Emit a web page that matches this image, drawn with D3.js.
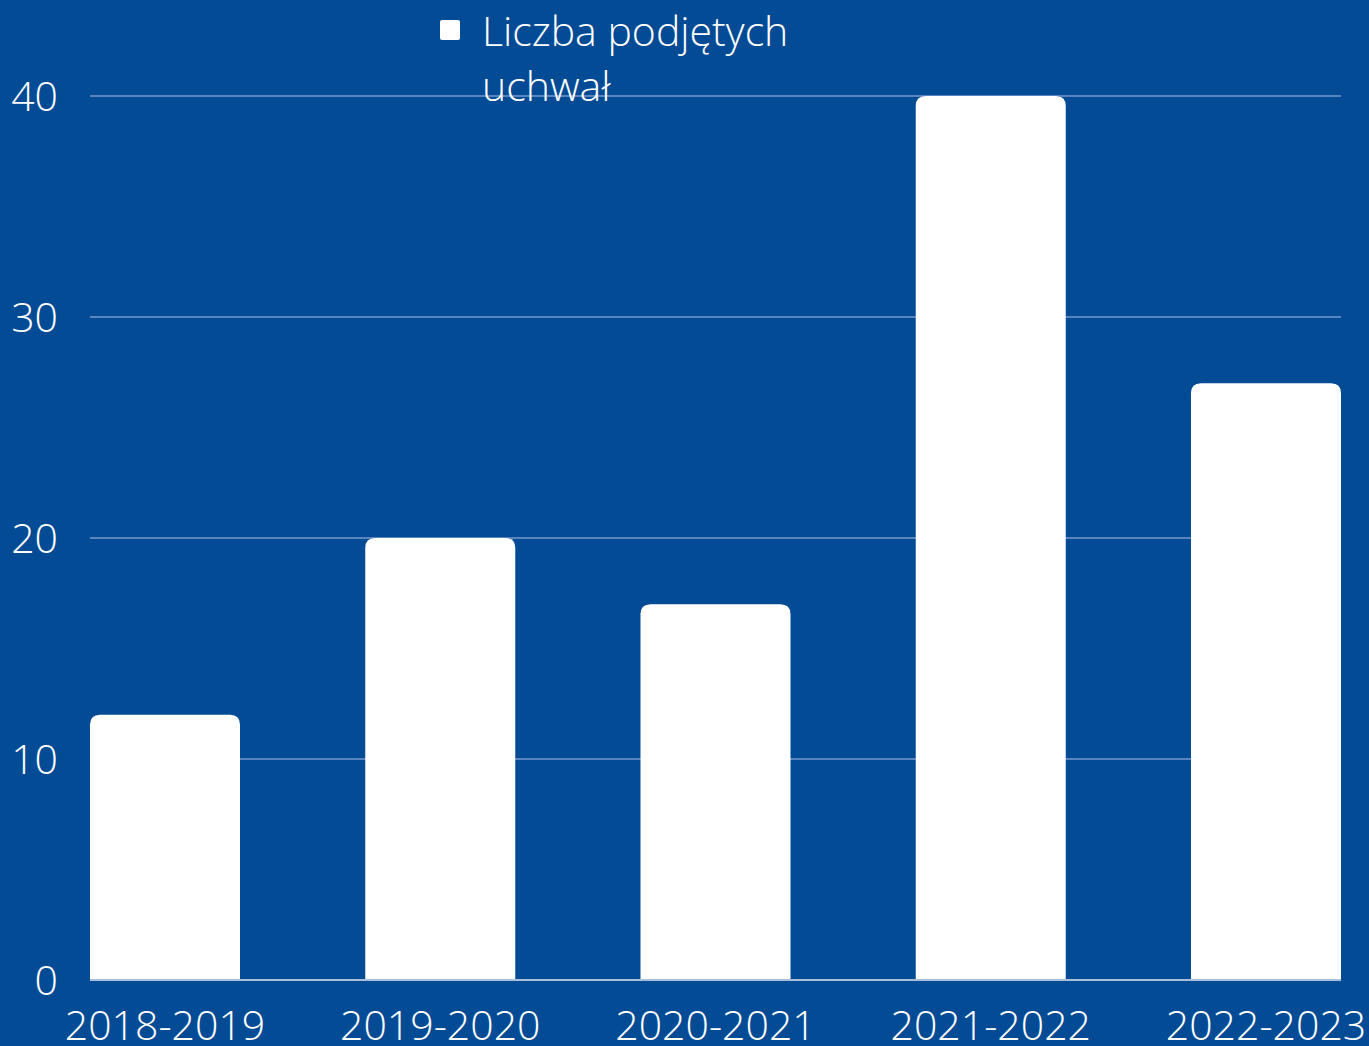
<!DOCTYPE html>
<html><head><meta charset="utf-8">
<script src="https://cdn.jsdelivr.net/npm/d3@7"></script>
<style>html,body{margin:0;padding:0;background:#044b96;}svg{display:block;}</style>
</head><body>
<svg id="c" width="1369" height="1046"></svg>
<script>
const categories = ["2018-2019","2019-2020","2020-2021","2021-2022","2022-2023"];
const values = [12, 20, 17, 40, 27];
const yTicks = [0, 10, 20, 30, 40];
const seriesName = ["Liczba podjętych", "uchwał"];

const W = 1369, H = 1046;
const m = {left: 90, right: 28, top: 96, bottom: 66};
const svg = d3.select("#c");
svg.append("rect").attr("width", W).attr("height", H).attr("fill", "#044b96");

const x = d3.scaleBand().domain(categories).range([m.left, W - m.right]).paddingInner(0.455).paddingOuter(0);
const y = d3.scaleLinear().domain([0, 40]).range([H - m.bottom, m.top]);
const font = "'Open Sans', sans-serif";

// gridlines
svg.append("g").selectAll("line").data(yTicks.filter(d => d > 0)).join("line")
  .attr("x1", m.left).attr("x2", W - m.right)
  .attr("y1", d => y(d)).attr("y2", d => y(d))
  .attr("stroke", "#5a84bd").attr("stroke-width", 2);

// y labels
svg.append("g").selectAll("text").data(yTicks).join("text")
  .attr("x", 58).attr("y", d => y(d)).attr("dy", "0.36em")
  .attr("text-anchor", "end").attr("fill", "#fff")
  .attr("font-family", font).attr("font-weight", 300).attr("font-size", 41)
  .text(d => d);

// baseline
svg.append("line").attr("x1", m.left).attr("x2", W - m.right)
  .attr("y1", y(0)).attr("y2", y(0)).attr("stroke", "#a9bedb").attr("stroke-width", 2);

// bars with rounded top corners
const r = 10;
svg.append("g").selectAll("path").data(values).join("path")
  .attr("fill", "#fff")
  .attr("d", (d, i) => {
    const x0 = x(categories[i]), w = x.bandwidth(), y0 = y(d), yb = y(0) - 1;
    return `M${x0},${yb}V${y0 + r}Q${x0},${y0} ${x0 + r},${y0}H${x0 + w - r}Q${x0 + w},${y0} ${x0 + w},${y0 + r}V${yb}Z`;
  });

// x labels
svg.append("g").selectAll("text").data(categories).join("text")
  .attr("x", d => x(d) + x.bandwidth() / 2).attr("y", 1040)
  .attr("text-anchor", "middle").attr("fill", "#fff")
  .attr("font-family", font).attr("font-weight", 300).attr("font-size", 41)
  .text(d => d);

// legend
svg.append("rect").attr("x", 440).attr("y", 20).attr("width", 20).attr("height", 20)
  .attr("rx", 2).attr("fill", "#fff");
svg.append("g").selectAll("text").data(seriesName).join("text")
  .attr("x", 482).attr("y", (d, i) => 46 + i * 55)
  .attr("fill", "#fff").attr("font-family", font).attr("font-weight", 300).attr("font-size", 41)
  .text(d => d);
</script>
</body></html>
